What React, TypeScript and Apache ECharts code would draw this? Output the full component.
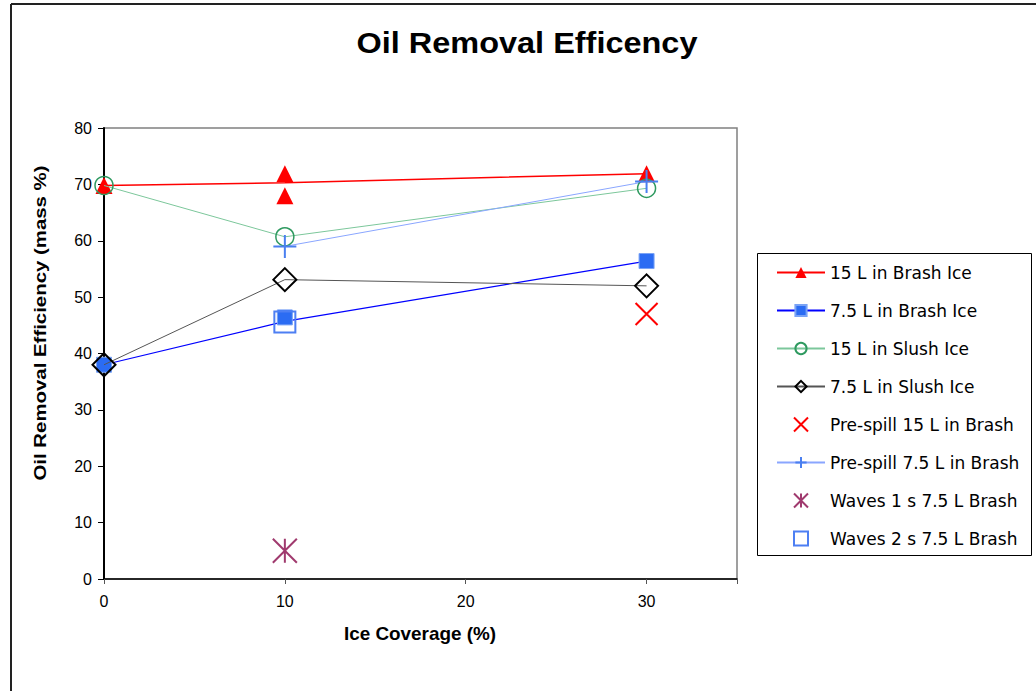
import React, { useEffect, useRef } from "react";
import * as echarts from "echarts";

// ---- Data (x = ice coverage %, y = oil removal efficiency mass %) ----
const xTicks = [0, 10, 20, 30];
const brash15Line = [[0, 69.8], [10, 70.3], [30, 71.9]];
const brash15Extra = [[10, 71.9], [10, 68.0]];
const brash75Line = [[0, 38.0], [10, 45.7], [30, 56.4]];
const brash75Extra = [[10, 46.4]];
const slush15 = [[0, 69.8], [10, 60.7], [30, 69.3]];
const slush75 = [[0, 38.0], [10, 53.1], [30, 52.0]];
const preSpill15 = [[30, 47.0]];
const preSpill75 = [[10, 59.0], [30, 70.5]];
const waves1s = [[10, 5.0]];
const waves2s = [[10, 45.6]];

const names = [
  "15 L in Brash Ice",
  "7.5 L in Brash Ice",
  "15 L in Slush Ice",
  "7.5 L in Slush Ice",
  "Pre-spill 15 L in Brash",
  "Pre-spill 7.5 L in Brash",
  "Waves 1 s 7.5 L Brash",
  "Waves 2 s 7.5 L Brash",
];

const FONT = '"Liberation Sans", Arial, sans-serif';
const LEGEND_FONT = '"DejaVu Sans", "Liberation Sans", sans-serif';
const CLEAR = "rgba(255,255,255,0)";

export default function App() {
  const ref = useRef<HTMLDivElement>(null);
  useEffect(() => {
    if (!ref.current) return;
    const chart = echarts.init(ref.current, undefined, { renderer: "svg" });
    const option: any = {
      animation: false,
      backgroundColor: "#ffffff",
      textStyle: { fontFamily: FONT },
      grid: {
        left: 104,
        top: 128,
        width: 633,
        height: 451,
        show: true,
        borderColor: "#808080",
        borderWidth: 1.5,
        backgroundColor: "#ffffff",
      },
      xAxis: {
        type: "value",
        min: 0,
        max: 35,
        interval: 10,
        axisLine: { show: true, lineStyle: { color: "#000", width: 1.5 } },
        axisTick: { show: true, inside: false, length: 5, lineStyle: { color: "#555" } },
        splitLine: { show: false },
        axisLabel: {
          fontSize: 16,
          color: "#000",
          margin: 14,
          fontFamily: FONT,
          formatter: (v: number) => (xTicks.indexOf(v) >= 0 ? String(v) : ""),
        },
        showMaxLabel: false,
      },
      yAxis: {
        type: "value",
        min: 0,
        max: 80,
        interval: 10,
        axisLine: { show: true, lineStyle: { color: "#000", width: 2 } },
        axisTick: { show: true, inside: false, length: 6, lineStyle: { color: "#000" } },
        splitLine: { show: false },
        axisLabel: { fontSize: 16, color: "#000", margin: 12, fontFamily: FONT },
      },
      legend: {
        orient: "vertical",
        left: 776,
        top: 264,
        padding: 0,
        itemWidth: 48,
        itemHeight: 14,
        itemGap: 21,
        textStyle: { fontSize: 17, color: "#000", fontFamily: LEGEND_FONT },
        data: names,
      },
      graphic: [
        { type: "line", shape: { x1: 11, y1: 4, x2: 1036, y2: 4 }, style: { stroke: "#222", lineWidth: 2 } },
        { type: "line", shape: { x1: 11, y1: 4, x2: 11, y2: 691 }, style: { stroke: "#222", lineWidth: 2 } },
        {
          type: "rect",
          shape: { x: 757.5, y: 253.5, width: 274, height: 302 },
          style: { fill: "none", stroke: "#000", lineWidth: 1 },
          z: -1,
        },
        {
          type: "text",
          x: 527,
          y: 43,
          scaleX: 1.12,
          style: {
            text: "Oil Removal Efficency",
            font: `bold 29px ${FONT}`,
            fill: "#000",
            textAlign: "center",
            textVerticalAlign: "middle",
          },
        },
        {
          type: "text",
          x: 420,
          y: 634,
          scaleX: 1.05,
          style: {
            text: "Ice Coverage (%)",
            font: `bold 18px ${FONT}`,
            fill: "#000",
            textAlign: "center",
            textVerticalAlign: "middle",
          },
        },
        {
          type: "text",
          x: 40,
          y: 323,
          rotation: Math.PI / 2,
          scaleX: 1.2,
          style: {
            text: "Oil Removal Efficiency (mass %)",
            font: `bold 17px ${FONT}`,
            fill: "#000",
            textAlign: "center",
            textVerticalAlign: "middle",
          },
        },
      ],
      series: [
        {
          name: names[0],
          type: "line",
          data: brash15Line.map((p, i) => (i === 1 ? { value: p, symbol: "none" } : { value: p })),
          symbol: "triangle",
          symbolSize: 17,
          itemStyle: { color: "#ff0000" },
          lineStyle: { color: "#ff0000", width: 1.5 },
          z: 5,
        },
        {
          name: names[0],
          type: "scatter",
          data: brash15Extra,
          symbol: "triangle",
          symbolSize: 17,
          itemStyle: { color: "#ff0000", opacity: 1 },
          z: 5,
        },
        {
          name: names[1],
          type: "line",
          data: brash75Line.map((p, i) => (i === 1 ? { value: p, symbol: "none" } : { value: p })),
          symbol: "rect",
          symbolSize: 15,
          itemStyle: { color: "#2b6cf3", borderColor: "#7aa3f5", borderWidth: 1 },
          lineStyle: { color: "#0000ff", width: 1.2 },
          z: 4,
        },
        {
          name: names[1],
          type: "scatter",
          data: brash75Extra,
          symbol: "rect",
          symbolSize: 15,
          itemStyle: { color: "#2b6cf3", borderColor: "#7aa3f5", borderWidth: 1, opacity: 1 },
          z: 4,
        },
        {
          name: names[2],
          type: "line",
          data: slush15,
          symbol: "circle",
          symbolSize: 18,
          itemStyle: { color: CLEAR, borderColor: "#2f9a60", borderWidth: 1.5 },
          lineStyle: { color: "#7cc79b", width: 1 },
          z: 6,
        },
        {
          name: names[3],
          type: "line",
          data: slush75,
          symbol: "diamond",
          symbolSize: 23,
          itemStyle: { color: CLEAR, borderColor: "#000", borderWidth: 2 },
          lineStyle: { color: "#555", width: 1 },
          z: 6,
        },
        {
          name: names[4],
          type: "scatter",
          data: preSpill15,
          symbol: "path://M0,0L22,22M22,0L0,22",
          symbolSize: 22,
          itemStyle: { color: CLEAR, borderColor: "#ff0000", borderWidth: 2, opacity: 1 },
          z: 6,
        },
        {
          name: names[5],
          type: "line",
          data: preSpill75,
          symbol: "path://M11,0L11,22M0,11L22,11",
          symbolSize: 23,
          itemStyle: { color: CLEAR, borderColor: "#4a7ff0", borderWidth: 2 },
          lineStyle: { color: "#8aa6ff", width: 1 },
          z: 6,
        },
        {
          name: names[6],
          type: "scatter",
          data: waves1s,
          symbol: "path://M0,0L24,24M24,0L0,24M12,0L12,24",
          symbolSize: 24,
          itemStyle: { color: CLEAR, borderColor: "#a03a6e", borderWidth: 2, opacity: 1 },
          z: 6,
        },
        {
          name: names[7],
          type: "scatter",
          data: waves2s,
          symbol: "path://M0,0L20,0L20,20L0,20Z",
          symbolSize: 21,
          itemStyle: { color: CLEAR, borderColor: "#4d7ff3", borderWidth: 2, opacity: 1 },
          z: 6,
        },
      ],
    };
    chart.setOption(option);
    return () => chart.dispose();
  }, []);
  return (
    <div
      ref={ref}
      style={{ position: "fixed", left: 0, top: 0, width: 1036, height: 691, background: "#fff" }}
    />
  );
}
